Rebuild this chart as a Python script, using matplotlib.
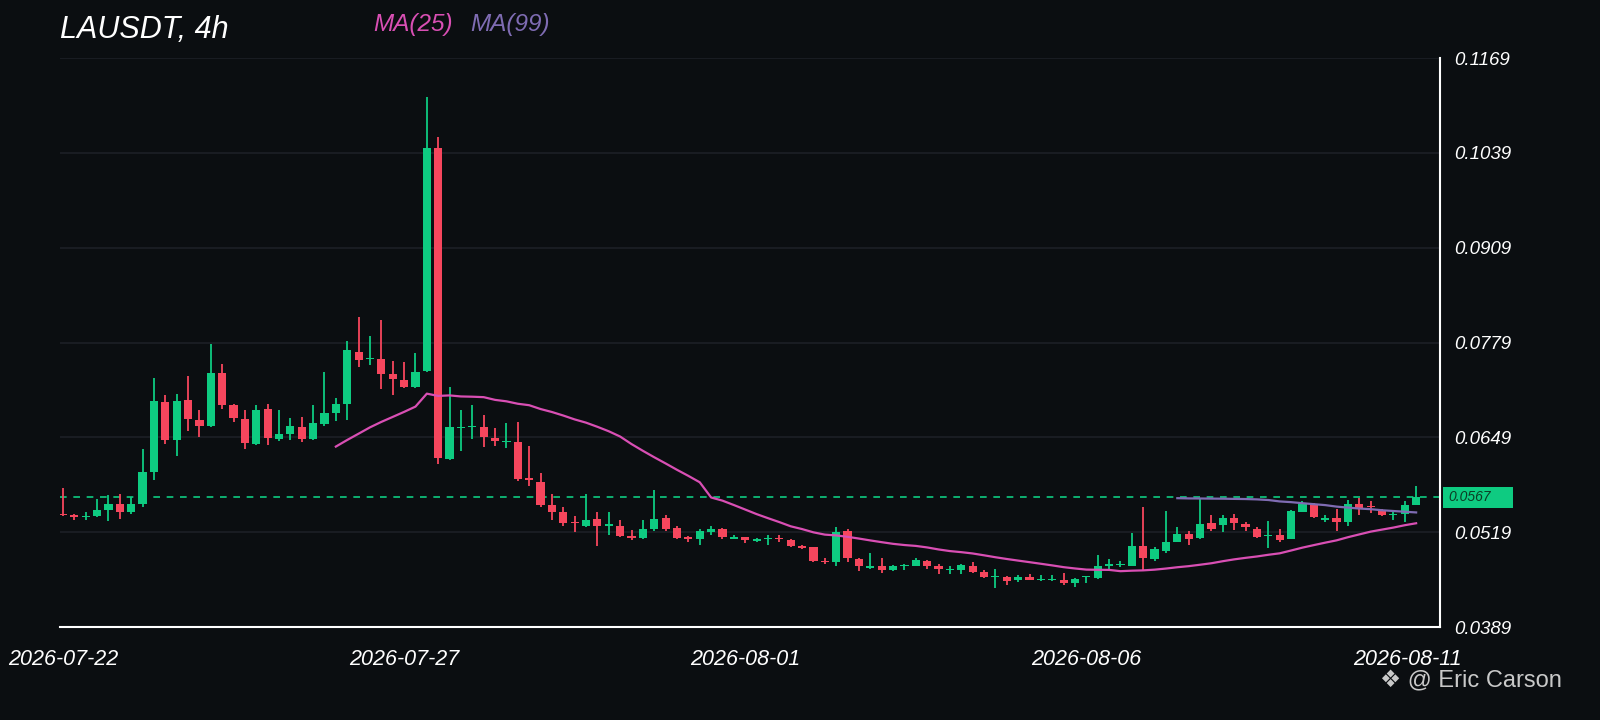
import matplotlib
matplotlib.use("Agg")
import matplotlib.pyplot as plt
import matplotlib.dates as mdates
from matplotlib.patches import Rectangle
from matplotlib.transforms import ScaledTranslation, blended_transform_factory
import numpy as np
import pandas as pd

# 4h candles, LAUSDT, starting 2026-07-22 00:00
start = "2026-07-22 00:00"
opens = [0.0544, 0.0542, 0.0540, 0.0541, 0.0549, 0.0558, 0.0546, 0.0558, 0.0601, 0.0697,
         0.0645, 0.0700, 0.0673, 0.0664, 0.0737, 0.0693, 0.0674, 0.0640, 0.0688, 0.0647,
         0.0653, 0.0663, 0.0647, 0.0667, 0.0683, 0.0695, 0.0766, 0.0756, 0.0757, 0.0736,
         0.0727, 0.0718, 0.0740, 0.1045, 0.0619, 0.0662, 0.0663, 0.0663, 0.0648, 0.0642,
         0.0642, 0.0593, 0.0588, 0.0556, 0.0546, 0.0532, 0.0528, 0.0537, 0.0528, 0.0528,
         0.0514, 0.0511, 0.0523, 0.0538, 0.0525, 0.0512, 0.0510, 0.0519, 0.0524, 0.0510,
         0.0512, 0.0507, 0.0509, 0.0511, 0.0508, 0.0500, 0.0498, 0.0480, 0.0478, 0.0520,
         0.0482, 0.0470, 0.0472, 0.0467, 0.0472, 0.0473, 0.0480, 0.0472, 0.0467, 0.0467,
         0.0473, 0.0465, 0.0457, 0.0458, 0.0453, 0.0458, 0.0453, 0.0453, 0.0454, 0.0450,
         0.0457, 0.0456, 0.0473, 0.0474, 0.0473, 0.0500, 0.0482, 0.0493, 0.0505, 0.0517,
         0.0511, 0.0531, 0.0529, 0.0538, 0.0530, 0.0524, 0.0514, 0.0515, 0.0509, 0.0547,
         0.0557, 0.0536, 0.0539, 0.0533, 0.0557, 0.0555, 0.0550, 0.0542, 0.0544, 0.0556]
highs = [0.0579, 0.0544, 0.0546, 0.0564, 0.0570, 0.0572, 0.0567, 0.0633, 0.0731, 0.0707,
         0.0708, 0.0733, 0.0687, 0.0777, 0.0750, 0.0695, 0.0686, 0.0694, 0.0695, 0.0687,
         0.0675, 0.0677, 0.0693, 0.0738, 0.0703, 0.0781, 0.0814, 0.0788, 0.0810, 0.0754,
         0.0752, 0.0764, 0.1116, 0.1061, 0.0718, 0.0686, 0.0694, 0.0680, 0.0662, 0.0668,
         0.0670, 0.0637, 0.0600, 0.0571, 0.0554, 0.0541, 0.0571, 0.0547, 0.0546, 0.0535,
         0.0522, 0.0536, 0.0577, 0.0543, 0.0528, 0.0514, 0.0523, 0.0527, 0.0525, 0.0515,
         0.0513, 0.0511, 0.0515, 0.0515, 0.0510, 0.0502, 0.0499, 0.0483, 0.0526, 0.0524,
         0.0483, 0.0490, 0.0484, 0.0474, 0.0475, 0.0483, 0.0481, 0.0476, 0.0473, 0.0475,
         0.0478, 0.0467, 0.0468, 0.0459, 0.0460, 0.0461, 0.0460, 0.0460, 0.0463, 0.0456,
         0.0459, 0.0488, 0.0482, 0.0480, 0.0518, 0.0553, 0.0498, 0.0548, 0.0526, 0.0521,
         0.0566, 0.0542, 0.0542, 0.0544, 0.0533, 0.0526, 0.0534, 0.0524, 0.0550, 0.0562,
         0.0559, 0.0542, 0.0551, 0.0563, 0.0566, 0.0562, 0.0551, 0.0547, 0.0562, 0.0582]
lows = [0.0541, 0.0536, 0.0535, 0.0540, 0.0534, 0.0537, 0.0544, 0.0553, 0.0591, 0.0640,
        0.0624, 0.0658, 0.0650, 0.0663, 0.0688, 0.0670, 0.0633, 0.0638, 0.0639, 0.0644,
        0.0645, 0.0643, 0.0646, 0.0665, 0.0671, 0.0673, 0.0745, 0.0748, 0.0715, 0.0707,
        0.0717, 0.0716, 0.0739, 0.0612, 0.0618, 0.0630, 0.0647, 0.0636, 0.0637, 0.0635,
        0.0589, 0.0582, 0.0554, 0.0535, 0.0528, 0.0519, 0.0526, 0.0500, 0.0515, 0.0513,
        0.0508, 0.0509, 0.0521, 0.0521, 0.0509, 0.0506, 0.0502, 0.0515, 0.0509, 0.0509,
        0.0504, 0.0506, 0.0502, 0.0506, 0.0498, 0.0496, 0.0478, 0.0475, 0.0472, 0.0478,
        0.0466, 0.0468, 0.0463, 0.0466, 0.0467, 0.0472, 0.0468, 0.0462, 0.0462, 0.0462,
        0.0463, 0.0456, 0.0443, 0.0446, 0.0451, 0.0453, 0.0452, 0.0452, 0.0446, 0.0444,
        0.0449, 0.0455, 0.0469, 0.0471, 0.0472, 0.0467, 0.0480, 0.0491, 0.0505, 0.0502,
        0.0510, 0.0520, 0.0519, 0.0522, 0.0521, 0.0511, 0.0497, 0.0506, 0.0509, 0.0546,
        0.0538, 0.0533, 0.0520, 0.0528, 0.0542, 0.0545, 0.0541, 0.0535, 0.0533, 0.0556]
closes = [0.0542, 0.0540, 0.0541, 0.0549, 0.0558, 0.0546, 0.0558, 0.0601, 0.0699, 0.0645,
          0.0699, 0.0674, 0.0664, 0.0737, 0.0694, 0.0675, 0.0641, 0.0687, 0.0648, 0.0653,
          0.0664, 0.0647, 0.0669, 0.0682, 0.0695, 0.0769, 0.0755, 0.0758, 0.0736, 0.0729,
          0.0718, 0.0739, 0.1045, 0.0621, 0.0663, 0.0663, 0.0665, 0.0649, 0.0644, 0.0644,
          0.0592, 0.0591, 0.0556, 0.0546, 0.0532, 0.0531, 0.0536, 0.0527, 0.0529, 0.0514,
          0.0511, 0.0524, 0.0537, 0.0524, 0.0511, 0.0510, 0.0520, 0.0524, 0.0512, 0.0513,
          0.0508, 0.0509, 0.0510, 0.0509, 0.0500, 0.0497, 0.0479, 0.0478, 0.0519, 0.0483,
          0.0472, 0.0472, 0.0467, 0.0472, 0.0473, 0.0481, 0.0472, 0.0468, 0.0468, 0.0474,
          0.0465, 0.0457, 0.0458, 0.0452, 0.0458, 0.0454, 0.0454, 0.0454, 0.0449, 0.0455,
          0.0458, 0.0472, 0.0475, 0.0475, 0.0500, 0.0483, 0.0496, 0.0505, 0.0517, 0.0510,
          0.0530, 0.0523, 0.0538, 0.0531, 0.0526, 0.0512, 0.0515, 0.0508, 0.0548, 0.0557,
          0.0540, 0.0538, 0.0533, 0.0557, 0.0551, 0.0553, 0.0542, 0.0544, 0.0556, 0.0567]

y_ticks = [0.0389, 0.0519, 0.0649, 0.0779, 0.0909, 0.1039, 0.1169]
x_tick_dates = ["2026-07-22", "2026-07-27", "2026-08-01", "2026-08-06", "2026-08-11"]
last_price = 0.0567

BG = "#0b0e11"
UP = "#0ecb81"
DOWN = "#f6465d"
MA25_C = "#d94fb4"
MA99_C = "#7f6cb3"
GRID = "#1c2026"
FONT = ["Liberation Sans", "DejaVu Sans"]

plt.rcParams["font.family"] = FONT

opens = np.array(opens)
highs = np.array(highs)
lows = np.array(lows)
closes = np.array(closes)
times = pd.date_range(start, periods=len(closes), freq="4h")
x = mdates.date2num(times)
step = 4 / 24

fig = plt.figure(figsize=(16, 7.2), dpi=100, facecolor=BG)
ax = fig.add_axes([60 / 1600, 1 - 627 / 720, 1380 / 1600, 569 / 720], facecolor=BG)

up = closes >= opens
colors = np.where(up, UP, DOWN)
ax.vlines(x, lows, highs, colors=colors, lw=1.3, zorder=3)
body_bottom = np.minimum(opens, closes)
body_h = np.maximum(np.abs(closes - opens), 0.00018)
ax.bar(x, body_h, width=step * 0.72, bottom=body_bottom, color=colors, linewidth=0, zorder=4)

# moving averages from the closes
ma25 = pd.Series(closes).rolling(25).mean()
ma99 = pd.Series(closes).rolling(99).mean()
ax.plot(x, ma25, color=MA25_C, lw=1.6, zorder=5)
ax.plot(x, ma99, color=MA99_C, lw=1.6, zorder=5)

ax.axhline(last_price, color=UP, ls=(0, (4, 4)), lw=1.2, zorder=2)

ax.set_xlim(x[0] - 0.26 * step, x[0] + 121.1 * step)
ax.set_ylim(y_ticks[0], y_ticks[-1])

ax.yaxis.tick_right()
ax.set_yticks(y_ticks)
ax.set_yticklabels(["%.4f" % v for v in y_ticks], style="italic")
ax.tick_params(axis="y", length=0, pad=10, labelcolor="white", labelsize=13.5)
ax.grid(axis="y", color=GRID, lw=1.2)

xt = mdates.date2num(pd.to_datetime(x_tick_dates))
ax.set_xticks(xt)
ax.set_xticklabels(x_tick_dates, style="italic")
ax.tick_params(axis="x", length=0, pad=16, labelcolor="white", labelsize=15.5)
last_lbl = ax.get_xticklabels()[-1]
last_lbl.set_transform(last_lbl.get_transform() + ScaledTranslation(-0.2, 0, fig.dpi_scale_trans))

for s in ["top", "left"]:
    ax.spines[s].set_visible(False)
for s in ["right", "bottom"]:
    ax.spines[s].set_color("white")
    ax.spines[s].set_linewidth(1.5)

# last price tag
tr = blended_transform_factory(ax.transAxes, ax.transData)
ax.add_patch(Rectangle((1.002, last_price - 0.00145), 70 / 1380, 0.0029, transform=tr,
                       facecolor=UP, edgecolor="none", clip_on=False, zorder=6))
ax.text(1.006, last_price, "%.4f" % last_price, transform=tr, color="#0b3d24",
        fontsize=10, style="italic", va="center", ha="left", zorder=7, clip_on=False)

fig.text(60 / 1600, 1 - 30 / 720, "LAUSDT, 4h", color="white", fontsize=22,
         style="italic", va="center", ha="left")
fig.text(373 / 1600, 1 - 24 / 720, "MA(25)", color=MA25_C, fontsize=17.5,
         style="italic", va="center", ha="left")
fig.text(470 / 1600, 1 - 24 / 720, "MA(99)", color=MA99_C, fontsize=17.5,
         style="italic", va="center", ha="left")
fig.text(1380 / 1600, 1 - 681 / 720, "❖ @ Eric Carson", color="#c9c9c9", fontsize=17,
         va="center", ha="left")

fig.savefig("out.png", dpi=100, facecolor=BG)
